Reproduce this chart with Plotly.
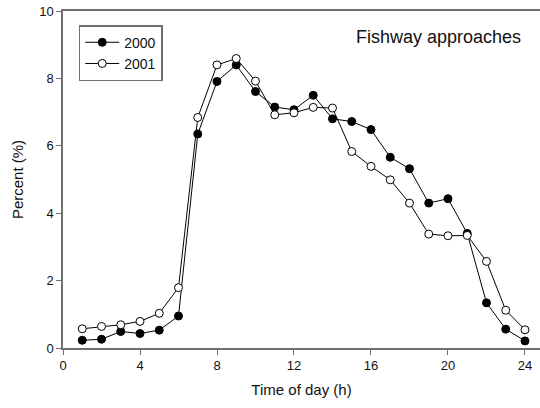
import plotly.graph_objects as go

hours = list(range(1, 25))
pct_2000 = [0.23, 0.26, 0.49, 0.43, 0.53, 0.95, 6.35, 7.91, 8.40, 7.61, 7.15, 7.07,
            7.50, 6.80, 6.72, 6.48, 5.66, 5.32, 4.30, 4.43, 3.40, 1.34, 0.56, 0.21]
pct_2001 = [0.57, 0.64, 0.69, 0.79, 1.03, 1.79, 6.84, 8.40, 8.59, 7.92, 6.92, 6.98,
            7.14, 7.12, 5.83, 5.39, 4.99, 4.30, 3.38, 3.33, 3.34, 2.57, 1.12, 0.54]
x_ticks = [0, 4, 8, 12, 16, 20, 24]
y_ticks = [0, 2, 4, 6, 8, 10]

FONT = "Liberation Sans, Arial, sans-serif"
AX = "#707070"

fig = go.Figure()
fig.add_trace(go.Scatter(
    x=hours, y=pct_2000, name="2000", mode="lines+markers",
    line=dict(color="black", width=1),
    marker=dict(symbol="circle", size=8, color="black", line=dict(color="black", width=1)),
    cliponaxis=False,
))
fig.add_trace(go.Scatter(
    x=hours, y=pct_2001, name="2001", mode="lines+markers",
    line=dict(color="black", width=1),
    marker=dict(symbol="circle", size=8, color="white", line=dict(color="black", width=1)),
    cliponaxis=False,
))

fig.update_layout(
    width=540, height=408,
    margin=dict(l=63, r=0, t=11, b=60),
    paper_bgcolor="white", plot_bgcolor="white",
    font=dict(family=FONT, size=13, color="#111"),
    showlegend=True,
    legend=dict(
        x=0.033, y=0.958, xanchor="left", yanchor="top",
        bordercolor=AX, borderwidth=1.5, bgcolor="white",
        font=dict(family=FONT, size=14, color="#111"),
        tracegroupgap=0, itemwidth=34,
    ),
    annotations=[dict(
        text="Fishway approaches", xref="paper", yref="paper",
        x=0.964, y=0.924, xanchor="right", yanchor="middle",
        showarrow=False, font=dict(family=FONT, size=18, color="#111"),
    )],
)

fig.update_xaxes(
    range=[0, 24.78], tickvals=x_ticks, ticktext=[str(v) for v in x_ticks],
    showline=True, linecolor=AX, linewidth=1.5, mirror=True,
    ticks="outside", ticklen=5, tickwidth=1, tickcolor=AX,
    showgrid=False, zeroline=False,
    tickfont=dict(family=FONT, size=13, color="#111"),
    title=dict(text="Time of day (h)", font=dict(family=FONT, size=15, color="#111"), standoff=12),
)
fig.update_yaxes(
    range=[0, 10], tickvals=y_ticks, ticktext=[str(v) for v in y_ticks],
    showline=True, linecolor=AX, linewidth=1.5, mirror=False,
    ticks="outside", ticklen=5, tickwidth=1, tickcolor=AX,
    showgrid=False, zeroline=False,
    tickfont=dict(family=FONT, size=13, color="#111"),
    title=dict(text="Percent (%)", font=dict(family=FONT, size=15, color="#111"), standoff=12),
)

fig.write_html(
    "out.html",
    config={"displayModeBar": False},
    post_script="document.body.style.margin='0';document.body.style.overflow='hidden';",
)
